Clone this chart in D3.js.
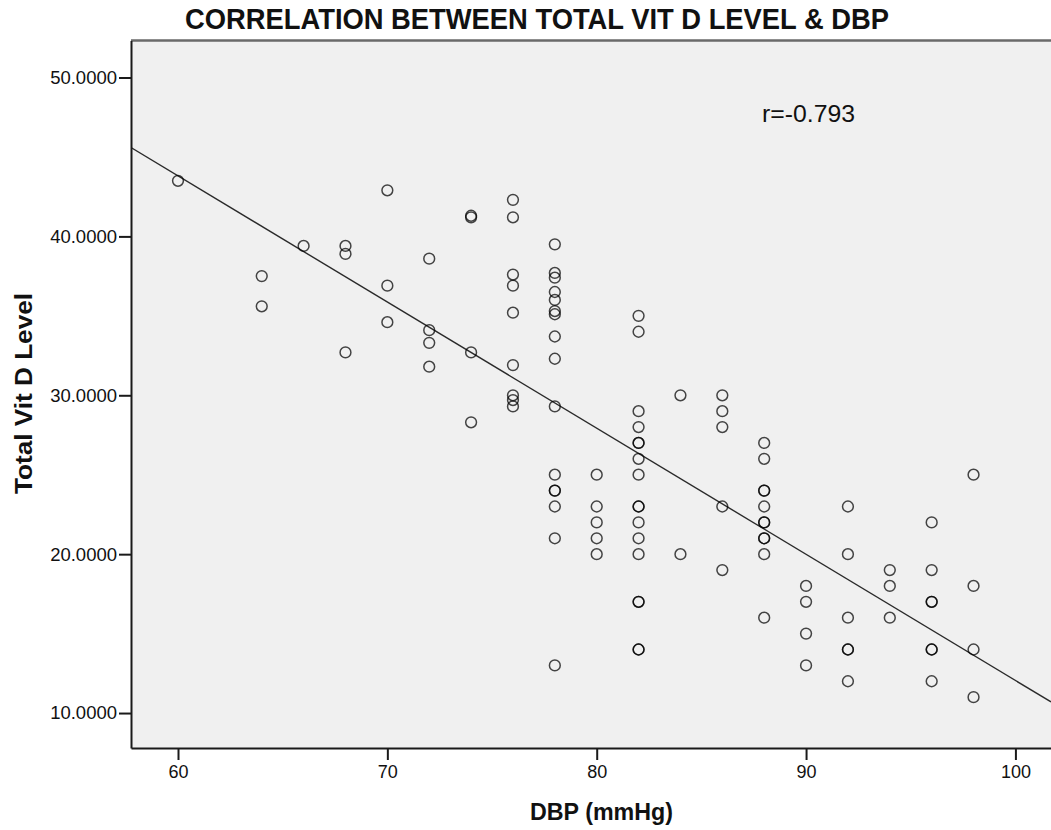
<!DOCTYPE html>
<html>
<head>
<meta charset="utf-8">
<script src="https://cdn.jsdelivr.net/npm/d3@7/dist/d3.min.js"></script>
<style>
  html, body { margin: 0; padding: 0; background: #ffffff; }
  svg { display: block; }
  text { font-family: "Liberation Sans", Arial, sans-serif; fill: #111; }
</style>
</head>
<body>
<svg id="chart" width="1051" height="830"></svg>
<script>
// Diastolic blood pressure (mmHg) for each subject
const dbp = [
  60,
  64, 64,
  66,
  68, 68, 68,
  70, 70, 70,
  72, 72, 72, 72,
  74, 74, 74, 74,
  76, 76, 76, 76, 76, 76, 76, 76, 76,
  78, 78, 78, 78, 78, 78, 78, 78, 78, 78, 78, 78, 78, 78, 78, 78,
  80, 80, 80, 80, 80,
  82, 82, 82, 82, 82, 82, 82, 82, 82, 82, 82, 82, 82, 82, 82, 82, 82,
  84, 84,
  86, 86, 86, 86, 86,
  88, 88, 88, 88, 88, 88, 88, 88, 88, 88, 88,
  90, 90, 90, 90,
  92, 92, 92, 92, 92, 92,
  94, 94, 94,
  96, 96, 96, 96, 96, 96, 96,
  98, 98, 98, 98
];

// Total vitamin D level for the same subjects
const vitD = [
  43.5,
  37.5, 35.6,
  39.4,
  39.4, 38.9, 32.7,
  42.9, 36.9, 34.6,
  38.6, 34.1, 33.3, 31.8,
  41.3, 41.2, 32.7, 28.3,
  42.3, 41.2, 37.6, 36.9, 35.2, 31.9, 30.0, 29.7, 29.3,
  39.5, 37.7, 37.4, 36.5, 36.0, 35.3, 35.1, 33.7, 32.3, 29.3, 25.0, 24.0, 24.0, 23.0, 21.0, 13.0,
  25, 23, 22, 21, 20,
  35, 34, 29, 28, 27, 27, 26, 25, 23, 23, 22, 21, 20, 17, 17, 14, 14,
  30, 20,
  30, 29, 28, 23, 19,
  27, 26, 24, 24, 23, 22, 22, 21, 21, 20, 16,
  18, 17, 15, 13,
  23, 20, 16, 14, 14, 12,
  19, 18, 16,
  22, 19, 17, 17, 14, 14, 12,
  25, 18, 14, 11
];

// Axis ticks
const xTicks = [60, 70, 80, 90, 100];
const yTicks = [10, 20, 30, 40, 50];

// Fitted line: vitD = fitIntercept + fitSlope * dbp
const fitIntercept = [91.45];
const fitSlope = [-0.794];
const rLabel = ["r=-0.793"];

const titleText = "CORRELATION BETWEEN TOTAL VIT D LEVEL & DBP";
const xTitle = "DBP (mmHg)";
const yTitle = "Total Vit D Level";

const points = dbp.map((d, i) => ({ x: d, y: vitD[i] }));

const svg = d3.select("#chart");

const plot = { left: 131, top: 40.5, right: 1051, bottom: 748 };

const x = d3.scaleLinear().domain([57.755, 101.70]).range([plot.left, plot.right]);
const y = d3.scaleLinear().domain([7.80, 52.33]).range([plot.bottom, plot.top]);

// Plot background
svg.append("rect")
  .attr("x", plot.left).attr("y", plot.top)
  .attr("width", plot.right - plot.left + 2).attr("height", plot.bottom - plot.top)
  .attr("fill", "#f0f0f0");

// Top frame edge
svg.append("line")
  .attr("x1", plot.left).attr("x2", plot.right)
  .attr("y1", plot.top).attr("y2", plot.top)
  .attr("stroke", "#6a6a6a").attr("stroke-width", 2.5);

// Clip region for marks
svg.append("defs").append("clipPath").attr("id", "plotClip")
  .append("rect")
  .attr("x", plot.left).attr("y", plot.top)
  .attr("width", plot.right - plot.left).attr("height", plot.bottom - plot.top);

const marks = svg.append("g").attr("clip-path", "url(#plotClip)");

// Fit line across the full x range
const fitFn = v => fitIntercept[0] + fitSlope[0] * v;
const xd = x.domain();
marks.append("line")
  .attr("x1", x(xd[0])).attr("y1", y(fitFn(xd[0])))
  .attr("x2", x(xd[1])).attr("y2", y(fitFn(xd[1])))
  .attr("stroke", "#2a2a2a").attr("stroke-width", 1.4);

// Scatter points (hollow circles)
marks.selectAll("circle.pt")
  .data(points)
  .join("circle")
  .attr("class", "pt")
  .attr("cx", d => x(d.x))
  .attr("cy", d => y(d.y))
  .attr("r", 5.4)
  .attr("fill", "none")
  .attr("stroke", "#000")
  .attr("stroke-opacity", 0.72)
  .attr("stroke-width", 1.5);

// X axis
const xAxis = d3.axisBottom(x).tickValues(xTicks).tickSize(12).tickSizeOuter(0).tickPadding(5);
const gx = svg.append("g")
  .attr("transform", `translate(0,${plot.bottom})`)
  .call(xAxis);
gx.select(".domain").attr("stroke", "#1a1a1a").attr("stroke-width", 2);
gx.selectAll(".tick line").attr("stroke", "#1a1a1a").attr("stroke-width", 2);
gx.selectAll(".tick text")
  .attr("font-family", "Liberation Sans, Arial, sans-serif")
  .attr("font-size", 18).attr("fill", "#222");

// Y axis
const yAxis = d3.axisLeft(y).tickValues(yTicks).tickSize(12).tickSizeOuter(0).tickPadding(2)
  .tickFormat(d3.format(".4f"));
const gy = svg.append("g")
  .attr("transform", `translate(${plot.left},0)`)
  .call(yAxis);
gy.select(".domain").attr("stroke", "#1a1a1a").attr("stroke-width", 2);
gy.selectAll(".tick line").attr("stroke", "#1a1a1a").attr("stroke-width", 2);
gy.selectAll(".tick text")
  .attr("font-family", "Liberation Sans, Arial, sans-serif")
  .attr("font-size", 18.5).attr("fill", "#222");

// Title
svg.append("text")
  .attr("x", 185).attr("y", 28.5)
  .attr("font-size", 29).attr("font-weight", "bold")
  .attr("textLength", 704).attr("lengthAdjust", "spacingAndGlyphs")
  .text(titleText);

// Correlation coefficient label
svg.append("text")
  .attr("x", 762).attr("y", 121.5)
  .attr("font-size", 24).attr("fill", "#333")
  .attr("textLength", 93).attr("lengthAdjust", "spacingAndGlyphs")
  .text(rLabel[0]);

// Axis titles
svg.append("text")
  .attr("x", 530).attr("y", 820)
  .attr("font-size", 24).attr("font-weight", "bold")
  .attr("textLength", 143).attr("lengthAdjust", "spacingAndGlyphs")
  .text(xTitle);

svg.append("text")
  .attr("transform", "translate(32,494) rotate(-90)")
  .attr("font-size", 24).attr("font-weight", "bold")
  .attr("textLength", 201).attr("lengthAdjust", "spacingAndGlyphs")
  .text(yTitle);
</script>
</body>
</html>
